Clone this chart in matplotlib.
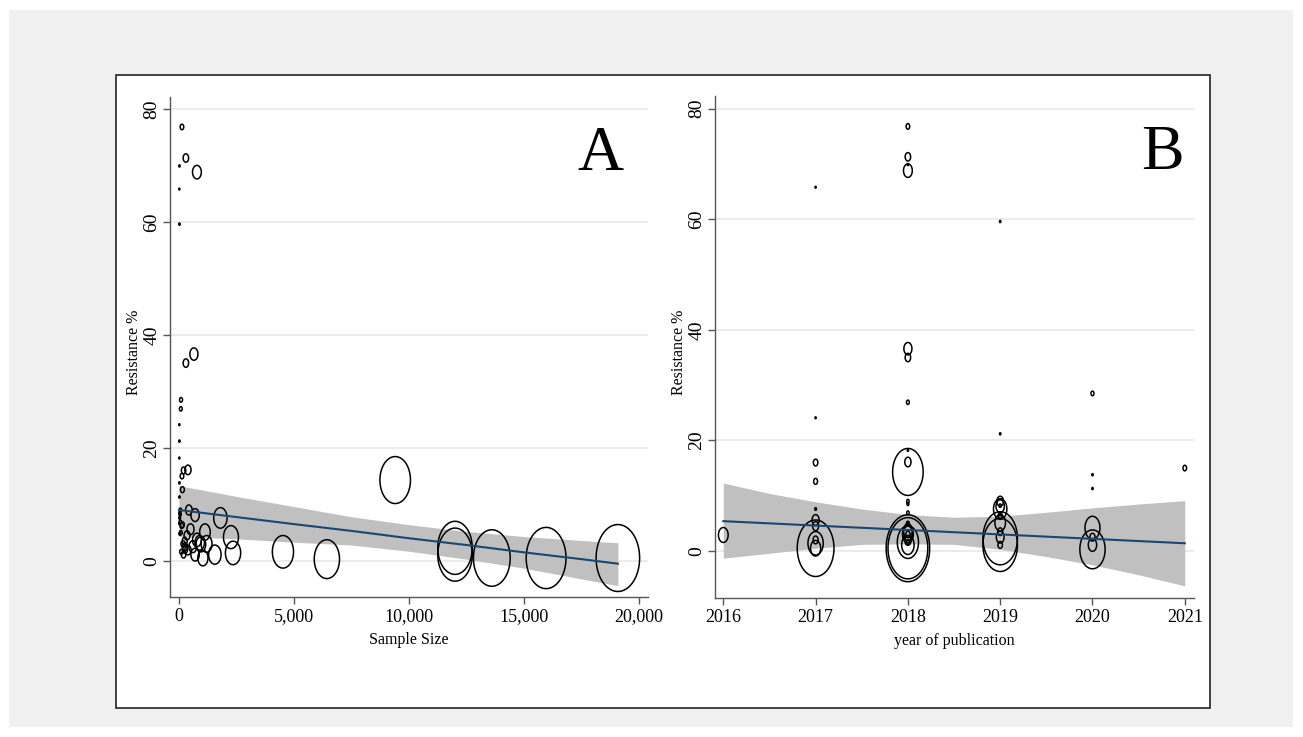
import numpy as np
import matplotlib
matplotlib.use('Agg')
import matplotlib.pyplot as plt
from matplotlib.path import Path
from matplotlib.patches import Rectangle

plt.rcParams['font.family'] = ['Liberation Serif', 'DejaVu Serif']

# 每项研究: 样本量, 耐药率(%), 发表年份
sample_size = [130, 300, 780, 20, 15, 20, 300, 650, 90, 80,
               15, 20, 15, 390, 200, 130, 20, 150, 20, 9400,
               430, 700, 1800, 40, 30, 60, 150, 80, 1130, 2260,
               2350, 1040, 4520, 6430, 12000, 12000, 13600, 15960, 19080, 950,
               780, 900, 600, 260, 390, 700, 100, 200, 500, 350,
               250, 120, 1200, 1560, 50, 60, 40, 25, 260, 180]
resistance = [76.8, 71.3, 68.8, 69.9, 65.8, 59.6, 35.0, 36.6, 28.5, 26.9,
              24.1, 21.2, 18.2, 16.1, 16.0, 15.0, 13.8, 12.6, 11.3, 14.3,
              9.0, 8.1, 7.6, 8.5, 7.6, 6.9, 6.4, 5.0, 5.1, 4.2,
              1.4, 0.5, 1.6, 0.3, 2.3, 1.1, 0.5, 0.5, 0.5, 2.9,
              3.7, 3.2, 2.5, 2.5, 1.9, 1.1, 1.6, 1.1, 5.6, 4.5,
              3.5, 6.2, 3.0, 1.1, 8.2, 9.0, 4.8, 6.6, 2.0, 3.0]
pub_year = [2018, 2018, 2018, 2018, 2017, 2019, 2018, 2018, 2020, 2018,
            2017, 2019, 2018, 2018, 2017, 2021, 2020, 2017, 2020, 2018,
            2019, 2019, 2019, 2018, 2017, 2018, 2019, 2018, 2019, 2020,
            2017, 2017, 2018, 2020, 2019, 2019, 2017, 2018, 2018, 2016,
            2018, 2018, 2019, 2020, 2018, 2020, 2018, 2019, 2017, 2017,
            2019, 2019, 2018, 2018, 2019, 2018, 2018, 2019, 2017, 2018]

# 拟合线及95%置信带
fitA_x = [0, 2500, 5000, 7500, 10000, 12500, 15000, 17500, 19080]
fitA_y = [9.0, 7.75, 6.5, 5.3, 4.0, 2.8, 1.5, 0.3, -0.5]
ciA_hi = [13.3, 11.4, 9.6, 7.8, 6.4, 5.2, 4.3, 3.6, 3.2]
ciA_lo = [4.3, 3.9, 3.3, 2.8, 1.7, 0.3, -1.3, -3.2, -4.4]

fitB_x = [2016, 2016.5, 2017, 2017.5, 2018, 2018.5, 2019, 2019.5, 2020, 2020.5, 2021]
fitB_y = [5.4, 5.0, 4.6, 4.2, 3.8, 3.4, 3.0, 2.6, 2.2, 1.8, 1.4]
ciB_hi = [12.3, 10.4, 8.9, 7.6, 6.6, 6.1, 6.3, 7.0, 7.8, 8.5, 9.1]
ciB_lo = [-1.3, -0.4, 0.5, 1.2, 1.3, 1.2, 0.3, -1.0, -2.5, -4.3, -6.3]

yticks = [0, 20, 40, 60, 80]
xticksA = [0, 5000, 10000, 15000, 20000]
xticklabelsA = ['0', '5,000', '10,000', '15,000', '20,000']
xticksB = [2016, 2017, 2018, 2019, 2020, 2021]

# 椭圆形空心标记 (原图横向被压缩)
t = np.linspace(0, 2 * np.pi, 60)
ell = Path(np.column_stack([0.65 * np.cos(t), np.sin(t)]), closed=True)

sizes = np.array(sample_size) * 0.1218

fig = plt.figure(figsize=(13.03, 7.37), dpi=100)
fig.patch.set_facecolor('white')
fig.patches.append(Rectangle((9 / 1303, 1 - 727 / 737), 1284 / 1303, 717 / 737,
                             transform=fig.transFigure, facecolor='#f0f0f0',
                             edgecolor='none', zorder=-10))
fig.patches.append(Rectangle((116 / 1303, 1 - 708 / 737), 1094 / 1303, 633 / 737,
                             transform=fig.transFigure, facecolor='white',
                             edgecolor='#222222', linewidth=1.2, zorder=-9))


def style_ax(ax):
    ax.set_facecolor('none')
    for s in ['top', 'right']:
        ax.spines[s].set_visible(False)
    for s in ['left', 'bottom']:
        ax.spines[s].set_color('#555555')
        ax.spines[s].set_linewidth(1.0)
    ax.set_yticks(yticks)
    ax.set_yticklabels([str(v) for v in yticks], rotation=90, va='center', fontsize=14)
    ax.tick_params(axis='both', length=5, width=1, color='#555555')
    ax.tick_params(axis='y', pad=2, labelsize=14)
    ax.tick_params(axis='x', pad=3, labelsize=13)
    ax.grid(axis='y', color='#ebebeb', linewidth=1.4)
    ax.set_axisbelow(True)
    ax.set_ylabel('Resistance %', fontsize=11.5)
    ax.yaxis.set_label_coords(-0.058, 0.49)


axA = fig.add_axes([170 / 1303, 140 / 737, 478 / 1303, 500 / 737])
style_ax(axA)
axA.fill_between(fitA_x, ciA_lo, ciA_hi, color='#c0c0c0', linewidth=0, zorder=1)
axA.scatter(sample_size, resistance, s=sizes, marker=ell, facecolors='none',
            edgecolors='black', linewidths=1.1, zorder=3)
axA.plot(fitA_x, fitA_y, color='#1a476f', linewidth=1.5, zorder=4)
axA.set_xlim(-390, 20390)
axA.set_ylim(-6.4, 82.1)
axA.set_xticks(xticksA)
axA.set_xticklabels(xticklabelsA)
axA.set_xlabel('Sample Size', fontsize=11.5, labelpad=5)
axA.text(0.90, 0.885, 'A', transform=axA.transAxes, fontsize=46, ha='center', va='center')

axB = fig.add_axes([715 / 1303, 139 / 737, 479 / 1303, 502 / 737])
style_ax(axB)
axB.fill_between(fitB_x, ciB_lo, ciB_hi, color='#c0c0c0', linewidth=0, zorder=1)
axB.scatter(pub_year, resistance, s=sizes, marker=ell, facecolors='none',
            edgecolors='black', linewidths=1.1, zorder=3)
axB.plot(fitB_x, fitB_y, color='#1a476f', linewidth=1.5, zorder=4)
axB.set_xlim(2015.91, 2021.1)
axB.set_ylim(-8.5, 82.3)
axB.set_xticks(xticksB)
axB.set_xticklabels([str(v) for v in xticksB])
axB.set_xlabel('year of publication', fontsize=11.5, labelpad=5)
axB.text(0.935, 0.885, 'B', transform=axB.transAxes, fontsize=46, ha='center', va='center')

fig.savefig('out.png', dpi=100)
